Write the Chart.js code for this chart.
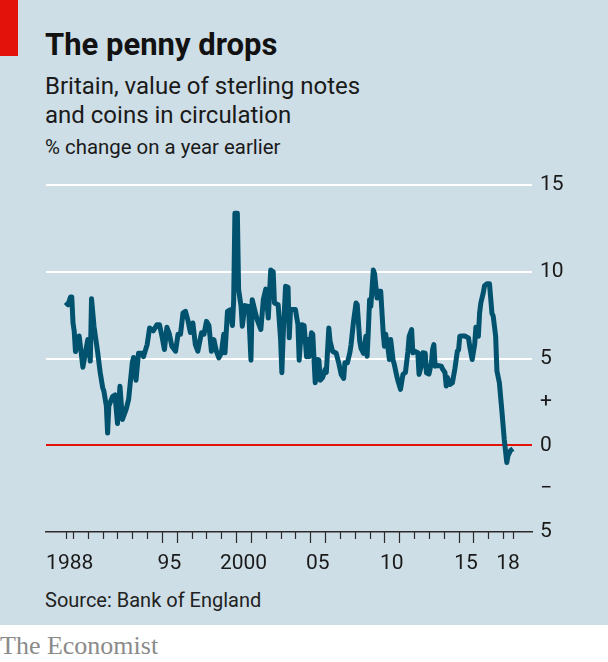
<!DOCTYPE html>
<html><head><meta charset="utf-8">
<script src="https://cdn.jsdelivr.net/npm/chart.js@4"></script>
<style>
html,body{margin:0;padding:0;background:#fff;}
#wrap{position:relative;width:608px;height:662px;overflow:hidden;font-family:Roboto,"Noto Sans",sans-serif;}
#bg{position:absolute;left:0;top:0;width:608px;height:625px;background:#cedee6;}
#red{position:absolute;left:0;top:0;width:18px;height:56px;background:#e3120b;}
.t{position:absolute;left:45px;white-space:nowrap;color:#121212;line-height:1;}
#title{top:29px;font-size:31px;font-weight:700;}
#sub{top:72px;font-size:24px;line-height:29px;color:#1a1a1a;}
#unit{top:137px;font-size:20.4px;color:#1a1a1a;}
#source{top:590px;font-size:20px;color:#222;}
#foot{position:absolute;left:0;top:633px;font-family:"Liberation Serif",serif;font-size:26px;line-height:1;color:#8a8a8a;white-space:nowrap;}
canvas{position:absolute;left:0;top:0;}
</style>
</head><body>
<div id="wrap">
<div id="bg"></div>
<div id="red"></div>
<div class="t" id="title">The penny drops</div>
<div class="t" id="sub">Britain, value of sterling notes<br>and coins in circulation</div>
<div class="t" id="unit">% change on a year earlier</div>
<div class="t" id="source">Source: Bank of England</div>
<div id="foot">The Economist</div>
<canvas id="c" width="608" height="662"></canvas>
</div>
<script>
const dates = ["1988-07","1988-09","1988-11","1988-12","1989-01","1989-02","1989-03","1989-06","1989-09","1989-11",
"1990-01","1990-03","1990-04","1990-06","1990-09","1990-11","1991-01","1991-02","1991-04","1991-05",
"1991-06","1991-09","1991-11","1992-01","1992-03","1992-05","1992-08","1992-10","1993-01","1993-02",
"1993-04","1993-06","1993-09","1993-10","1994-01","1994-03","1994-06","1994-09","1994-11","1995-01",
"1995-03","1995-05","1995-07","1995-09","1995-12","1996-02","1996-04","1996-06","1996-08","1996-10",
"1996-12","1997-02","1997-04","1997-06","1997-09","1997-11","1998-01","1998-03","1998-05","1998-07",
"1998-09","1998-11","1999-01","1999-03","1999-04","1999-06","1999-08","1999-10","1999-11","1999-12",
"2000-02","2000-03","2000-05","2000-06","2000-08","2000-11","2001-01","2001-02","2001-04","2001-06",
"2001-09","2001-11","2002-01","2002-03","2002-05","2002-07","2002-08","2002-11","2003-01","2003-02",
"2003-03","2003-05","2003-07","2003-08","2003-09","2004-01","2004-03","2004-04","2004-06","2004-08",
"2004-10","2004-11","2004-12","2005-02","2005-03","2005-05","2005-07","2005-08","2005-09","2005-11",
"2006-01","2006-02","2006-04","2006-05","2006-07","2006-10","2006-12","2007-02","2007-04","2007-05",
"2007-07","2007-09","2007-10","2007-12","2008-02","2008-03","2008-05","2008-06","2008-08","2008-10",
"2008-11","2008-12","2009-01","2009-02","2009-04","2009-05","2009-07","2009-08","2009-10","2009-12",
"2010-01","2010-02","2010-04","2010-05","2010-06","2010-08","2010-09","2010-11","2010-12","2011-02",
"2011-04","2011-06","2011-08","2011-09","2011-11","2011-12","2012-02","2012-04","2012-05","2012-07",
"2012-08","2012-10","2012-11","2013-01","2013-03","2013-04","2013-05","2013-06","2013-08","2013-11",
"2013-12","2014-02","2014-03","2014-04","2014-06","2014-08","2014-10","2014-12","2015-01","2015-02",
"2015-04","2015-06","2015-09","2015-10","2015-12","2016-02","2016-03","2016-05","2016-06","2016-07",
"2016-09","2016-10","2016-12","2017-02","2017-04","2017-05","2017-07","2017-08","2017-10","2017-12",
"2018-02","2018-04","2018-05","2018-07","2018-09"];
const values = [8.24,8.1,8.55,8.55,7.07,6.57,5.4,6.3,4.5,5.3,
6.1,4.85,8.45,6.86,5.34,4.2,3.33,3.12,2.26,0.7,
2.26,2.8,2.9,1.25,3.4,1.49,2.07,2.64,4.77,5.06,
3.75,5.3,5.3,5.1,5.8,6.76,6.6,6.95,6.95,6.28,
5.52,6.8,6.4,5.7,5.42,6.4,6.4,7.62,7.72,7.2,
6.5,7.05,5.8,5.42,6.48,6.4,7.14,6.9,5.42,6.09,
5.42,5.04,5.3,6.4,5.33,7.72,7.8,6.9,8.3,13.37,
13.37,8.97,8.0,6.86,8.05,8.0,4.9,8.39,7.8,7.24,
6.67,8.39,9.0,7.33,10.1,10.0,8.2,8.1,6.09,4.18,
6.2,9.16,9.1,6.19,7.82,7.82,6.95,4.9,6.95,6.9,
5.1,6.1,5.1,6.48,6.4,3.6,4.94,4.9,3.75,3.9,
4.37,4.2,6.76,6.0,5.42,5.3,4.75,4.08,3.85,4.75,
4.75,5.33,5.8,7.14,8.2,8.1,6.0,5.6,5.3,6.28,
5.13,6.67,8.39,8.0,10.1,9.9,8.49,8.87,8.87,6.48,
5.71,6.4,5.52,4.94,6.1,4.9,4.66,3.98,3.7,3.22,
4.08,4.2,5.4,6.28,6.67,5.33,5.4,5.33,4.08,4.6,
5.33,5.3,4.18,4.1,4.75,5.52,5.8,4.56,4.6,4.56,
4.4,4.18,3.41,3.9,3.5,3.6,4.4,5.42,5.5,6.28,
6.3,6.3,6.19,5.7,4.94,5.8,6.8,6.28,7.62,8.2,
8.8,9.2,9.31,9.31,7.6,7.45,6.28,4.3,3.6,2.0,
0.3,-1.0,-0.6,-0.3,-0.2];

const yTicks = [-5, -2.5, 0, 2.5, 5, 10, 15];
const yTickLabels = ["5", "\u2212", "0", "+", "5", "10", "15"];
const xLabelPos = [1988.78, 1995.5, 2000.5, 2005.5, 2010.5, 2015.5, 2018.33];
const xLabels = ["1988", "95", "2000", "05", "10", "15", "18"];
const tallTickYears = [1995, 1996, 2000, 2001, 2005, 2006, 2010, 2011, 2015, 2016];

function toYear(d){ return +d.slice(0,4) + (+d.slice(5,7) - 1) / 12; }

const tickMarks = {
  id: 'tickMarks',
  afterDraw(chart){
    const xs = chart.scales.x, ctx = chart.ctx, b = chart.chartArea.bottom;
    const list = [toYear(dates[0])];
    for (let y = 1989; y <= 2018; y++) list.push(y);
    list.push(toYear(dates[dates.length-1]));
    ctx.save();
    ctx.strokeStyle = '#2b2b2b';
    ctx.lineWidth = 1.2;
    list.forEach(v => {
      const px = Math.round(xs.getPixelForValue(v)) + 0.5;
      const len = tallTickYears.includes(v) ? 11 : 7;
      ctx.beginPath(); ctx.moveTo(px, b); ctx.lineTo(px, b + len); ctx.stroke();
    });
    ctx.restore();
  }
};

const font = {family: 'Roboto, "Noto Sans", sans-serif', size: 21};

new Chart(document.getElementById('c'), {
  type: 'line',
  data: {
    datasets: [{
      data: dates.map((d, i) => ({x: toYear(d), y: values[i]})),
      borderColor: '#01526e',
      borderWidth: 5,
      pointRadius: 0,
      tension: 0,
      borderJoinStyle: 'round',
      borderCapStyle: 'butt',
      fill: false
    }]
  },
  options: {
    responsive: false,
    devicePixelRatio: 1,
    animation: false,
    events: [],
    layout: {padding: {left: 46, top: 185, right: 0, bottom: 0}},
    plugins: {legend: {display: false}, tooltip: {enabled: false}, title: {display: false}},
    scales: {
      x: {
        type: 'linear',
        min: 1987.18, max: 2019.95,
        afterFit(s){ s.height = 130; },
        afterBuildTicks(s){ s.ticks = xLabelPos.map(v => ({value: v})); },
        grid: {display: false, drawTicks: false},
        border: {display: true, color: '#2b2b2b', width: 1.5},
        ticks: {
          autoSkip: false, maxRotation: 0, padding: 19,
          font: font, color: '#1a1a1a',
          callback: (v, i) => xLabels[i]
        }
      },
      y: {
        position: 'right',
        min: -5, max: 15,
        afterFit(s){ s.width = 76; },
        afterBuildTicks(s){ s.ticks = yTicks.map(v => ({value: v})); },
        grid: {
          drawTicks: false,
          lineWidth: 2,
          color: c => c.tick.value === 0 ? '#e3120b' : (c.tick.value >= 5 ? '#ffffff' : 'rgba(0,0,0,0)')
        },
        border: {display: false},
        ticks: {
          padding: 8, font: font, color: '#1a1a1a',
          callback: (v, i) => yTickLabels[i]
        }
      }
    }
  },
  plugins: [tickMarks]
});
</script>
</body></html>
